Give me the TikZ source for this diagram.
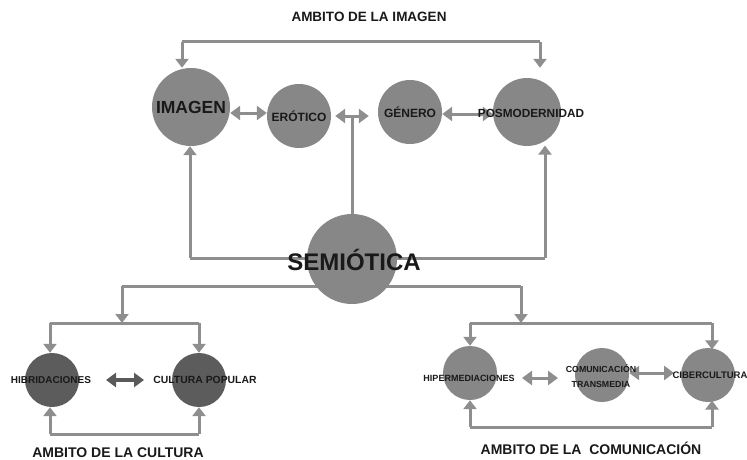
\documentclass[tikz,border=0pt]{standalone}
\usepackage{fontspec}
\setmainfont{Liberation Sans}
\usetikzlibrary{arrows.meta,backgrounds}
\definecolor{circ}{HTML}{878787}
\definecolor{circd}{HTML}{5C5C5C}
\definecolor{lin}{HTML}{8E8E8E}
\definecolor{lind}{HTML}{5A5A5A}
\tikzset{
  bub/.style={circle,fill=circ,inner sep=0pt,minimum size=#1},
  bubd/.style={circle,fill=circd,inner sep=0pt,minimum size=#1},
  lab/.style={font=\bfseries,inner sep=0pt,text=black!90},
  conn/.style={draw=lin,line width=3pt},
  arr/.style={conn,-{Triangle[width=13pt,length=9pt]}},
  dbl/.style={conn,{Triangle[width=14pt,length=10pt]}-{Triangle[width=14pt,length=10pt]}},
  dbld/.style={draw=lind,line width=3.5pt,{Triangle[width=14pt,length=10pt]}-{Triangle[width=14pt,length=10pt]}},
}
\begin{document}
\begin{tikzpicture}[x=1pt,y=-1pt]
\useasboundingbox (0,0) rectangle (747,460);
% nodes
\node[bub=78pt] (imagen) at (191,107) {};
\node[bub=64pt] (erotico) at (299,116) {};
\node[bub=64pt] (genero) at (410,112) {};
\node[bub=68pt] (posmo) at (527,112) {};
\node[bub=90pt] (semiotica) at (352,259) {};
\node[bubd=54pt] (hibri) at (52,380) {};
\node[bubd=54pt] (culpop) at (199,380) {};
\node[bub=54pt] (hiper) at (470,373) {};
\node[bub=54pt] (trans) at (602,375) {};
\node[bub=54pt] (ciber) at (708,375) {};
% texts
\node[lab,font=\bfseries\fontsize{13.5}{15}\selectfont] (tImg) at (369,17) {AMBITO DE LA IMAGEN};
\node[lab,font=\bfseries\fontsize{17.5}{19}\selectfont] (tImagen) at (191,107) {IMAGEN};
\node[lab,font=\bfseries\fontsize{12}{14}\selectfont] (tErotico) at (299,116) {ERÓTICO};
\node[lab,font=\bfseries\fontsize{12}{14}\selectfont] (tGenero) at (410,112) {GÉNERO};
\node[lab,font=\bfseries\fontsize{11.8}{13}\selectfont] (tPosmo) at (531,113) {POSMODERNIDAD};
\node[lab,font=\bfseries\fontsize{24}{26}\selectfont] (tSemio) at (354,260) {SEMIÓTICA};
\node[lab,font=\bfseries\fontsize{10}{11}\selectfont] (tHibri) at (51,380) {HIBRIDACIONES};
\node[lab,font=\bfseries\fontsize{10.4}{12}\selectfont] (tCulpop) at (205,380) {CULTURA POPULAR};
\node[lab,font=\bfseries\fontsize{9}{10}\selectfont] (tHiper) at (469,378) {HIPERMEDIACIONES};
\node[lab,font=\bfseries\fontsize{8.8}{15}\selectfont,align=center] (tTrans) at (601,376) {COMUNICACIÓN\\TRANSMEDIA};
\node[lab,font=\bfseries\fontsize{9.5}{11}\selectfont] (tCiber) at (710,375) {CIBERCULTURA};
\node[lab,font=\bfseries\fontsize{14}{16}\selectfont] (tCult) at (118,453) {AMBITO DE LA CULTURA};
\node[lab,font=\bfseries\fontsize{14}{16}\selectfont] (tCom) at (591,448) {AMBITO DE LA\ \ COMUNICACIÓN};
% coordinates
\coordinate (tl) at (182,42);
\coordinate (tr) at (540,42);
\coordinate (tj) at (352,116);
\coordinate (sl) at (190,258);
\coordinate (sr) at (545,258);
\coordinate (ll) at (122,286);
\coordinate (lr) at (521,286);
\coordinate (lj) at (122,323);
\coordinate (rj) at (521,323);
\coordinate (lh1) at (50,323);
\coordinate (lh2) at (199,323);
\coordinate (rh1) at (470,323);
\coordinate (rh2) at (712,323);
\coordinate (lb1) at (50,434);
\coordinate (lb2) at (199,434);
\coordinate (rb1) at (470,427);
\coordinate (rb2) at (712,427);
\begin{scope}[on background layer]
% top bracket
\draw[conn] (tl) -- (tr);
\draw[arr] (tl) -- (tl |- imagen.north);
\draw[arr,shorten >=10pt] (tr) -- (tr |- posmo.north);
% horizontal double arrows
\draw[dbl] (imagen.east |- 0,113) -- (erotico.west |- 0,113);
\draw[dbl] (genero.east |- 0,114) -- (posmo.west |- 0,114);
\draw[conn] (semiotica.north) -- (tj);
\draw[dbl] ([xshift=4pt]erotico.east) -- ([xshift=-9pt]genero.west |- tj);
% semiotica sides
\draw[conn] (sl) -- (sr);
\draw[arr] (sl) -- (imagen.south -| sl);
\draw[arr,shorten >=4pt] (sr) -- (posmo.-60 -| sr);
% lower
\draw[conn] (ll) -- (lr);
\draw[arr] (ll) -- (lj);
\draw[arr] (lr) -- (rj);
\draw[conn] (lh1) -- (lh2);
\draw[conn] (rh1) -- (rh2);
\draw[arr] (lh1) -- (hibri.north -| lh1);
\draw[arr] (lh2) -- (culpop.north);
\draw[arr] (rh1) -- (hiper.north);
\draw[arr] (rh2) -- (ciber.70 -| rh2);
\draw[conn] (lb1) -- (lb2);
\draw[conn] (rb1) -- (rb2);
\draw[arr] (lb1) -- (hibri.south -| lb1);
\draw[arr] (lb2) -- (culpop.south);
\draw[arr] (rb1) -- (hiper.south);
\draw[arr] (rb2) -- (ciber.-70 -| rb2);
% bottom double arrows
\draw[dbld] (106,380) coordinate (da1) -- (144,380) coordinate (da2);
\draw[dbl] (522,378) coordinate (db1) -- (558,378) coordinate (db2);
\draw[dbl] (trans.east |- 0,373) -- (674,373) coordinate (dc2);
\end{scope}
\end{tikzpicture}
\end{document}
